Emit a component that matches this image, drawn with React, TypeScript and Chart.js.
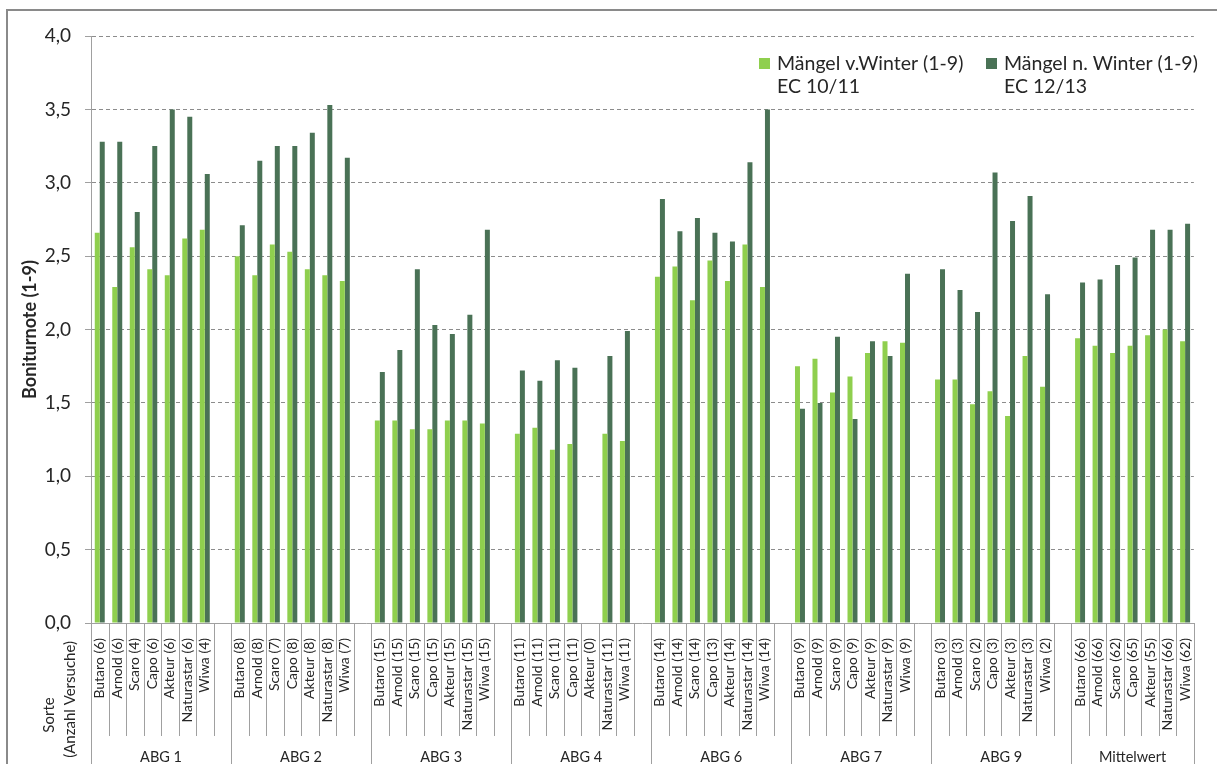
import React, { useEffect, useRef } from 'react';
import { Chart, registerables } from 'chart.js';

Chart.register(...registerables);

// ---------- data ----------
const cultivars = ['Butaro', 'Arnold', 'Scaro', 'Capo', 'Akteur', 'Naturastar', 'Wiwa'];
const groupNames = ['ABG 1', 'ABG 2', 'ABG 3', 'ABG 4', 'ABG 6', 'ABG 7', 'ABG 9', 'Mittelwert'];

// number of trials (Anzahl Versuche) per group and cultivar
const trialCounts = [
  [6, 6, 4, 6, 6, 6, 4],
  [8, 8, 7, 8, 8, 8, 7],
  [15, 15, 15, 15, 15, 15, 15],
  [11, 11, 11, 11, 0, 11, 11],
  [14, 14, 14, 13, 14, 14, 14],
  [9, 9, 9, 9, 9, 9, 9],
  [3, 3, 2, 3, 3, 3, 2],
  [66, 66, 62, 65, 55, 66, 62],
];

// Mängel v. Winter (1-9), EC 10/11
const vorWinter: (number | null)[][] = [
  [2.66, 2.29, 2.56, 2.41, 2.37, 2.62, 2.68],
  [2.5, 2.37, 2.58, 2.53, 2.41, 2.37, 2.33],
  [1.38, 1.38, 1.32, 1.32, 1.38, 1.38, 1.36],
  [1.29, 1.33, 1.18, 1.22, null, 1.29, 1.24],
  [2.36, 2.43, 2.2, 2.47, 2.33, 2.58, 2.29],
  [1.75, 1.8, 1.57, 1.68, 1.84, 1.92, 1.91],
  [1.66, 1.66, 1.49, 1.58, 1.41, 1.82, 1.61],
  [1.94, 1.89, 1.84, 1.89, 1.96, 2.0, 1.92],
];

// Mängel n. Winter (1-9), EC 12/13
const nachWinter: (number | null)[][] = [
  [3.28, 3.28, 2.8, 3.25, 3.5, 3.45, 3.06],
  [2.71, 3.15, 3.25, 3.25, 3.34, 3.53, 3.17],
  [1.71, 1.86, 2.41, 2.03, 1.97, 2.1, 2.68],
  [1.72, 1.65, 1.79, 1.74, null, 1.82, 1.99],
  [2.89, 2.67, 2.76, 2.66, 2.6, 3.14, 3.5],
  [1.46, 1.5, 1.95, 1.39, 1.92, 1.82, 2.38],
  [2.41, 2.27, 2.12, 3.07, 2.74, 2.91, 2.24],
  [2.32, 2.34, 2.44, 2.49, 2.68, 2.68, 2.72],
];

const seriesNames = [
  ['Mängel v.Winter (1-9)', 'EC 10/11'],
  ['Mängel n. Winter (1-9)', 'EC 12/13'],
];
const seriesColors = ['#8FCF4E', '#4A7256'];

const yTickLabels = ['0,0', '0,5', '1,0', '1,5', '2,0', '2,5', '3,0', '3,5', '4,0'];
const yTitle = 'Boniturnote (1-9)';
const xTitleLines = ['Sorte', '(Anzahl Versuche)'];

// ---------- build category table ----------
const labels: string[] = [];
const lightData: (number | null)[] = [];
const darkData: (number | null)[] = [];
const groupStarts: number[] = [];
groupNames.forEach((g, gi) => {
  groupStarts.push(labels.length);
  cultivars.forEach((c, ci) => {
    labels.push(`${c} (${trialCounts[gi][ci]})`);
    lightData.push(vorWinter[gi][ci]);
    darkData.push(nachWinter[gi][ci]);
  });
  if (gi < groupNames.length - 1) {
    labels.push('');
    lightData.push(null);
    darkData.push(null);
  }
});

const FONT = 'Lato';
const TEXT = '#262626';
const LINE = '#a0a0a0';

const framePlugin = {
  id: 'frame',
  beforeDraw(chart: any) {
    const { ctx } = chart;
    ctx.save();
    ctx.fillStyle = '#ffffff';
    ctx.fillRect(0, 0, chart.width, chart.height);
    ctx.strokeStyle = '#8a8a8a';
    ctx.lineWidth = 2;
    ctx.strokeRect(7, 10, chart.width + 20, chart.height + 20);
    ctx.restore();
  },
};

const groupAxisPlugin = {
  id: 'groupAxis',
  afterDraw(chart: any) {
    const { ctx, chartArea } = chart;
    const x = chart.scales.x;
    const n = chart.data.labels.length;
    const slot = x.getPixelForValue(1) - x.getPixelForValue(0);
    const axisY = chartArea.bottom;
    ctx.save();
    ctx.strokeStyle = LINE;
    ctx.lineWidth = 1;
    for (let k = 0; k <= n; k++) {
      const px = Math.round(x.getPixelForValue(k) - slot / 2) + 0.5;
      const isGroup = groupStarts.includes(k) || k === n;
      ctx.beginPath();
      ctx.moveTo(px, axisY);
      ctx.lineTo(px, isGroup ? chart.height : axisY + 113);
      ctx.stroke();
    }
    ctx.fillStyle = TEXT;
    ctx.font = `14.5px ${FONT}`;
    ctx.textAlign = 'center';
    ctx.textBaseline = 'middle';
    groupStarts.forEach((s, gi) => {
      const e = gi < groupStarts.length - 1 ? groupStarts[gi + 1] : n;
      const cx = (x.getPixelForValue(s) - slot / 2 + x.getPixelForValue(e - 1) + slot / 2) / 2;
      ctx.fillText(groupNames[gi], cx, 757);
    });
    // category axis title (rotated)
    ctx.font = `15px ${FONT}`;
    ctx.save();
    ctx.translate(49, 715);
    ctx.rotate(-Math.PI / 2);
    ctx.textAlign = 'center';
    ctx.fillText(xTitleLines[0], 0, 0);
    ctx.restore();
    ctx.save();
    ctx.translate(70, 641);
    ctx.rotate(-Math.PI / 2);
    ctx.textAlign = 'right';
    ctx.fillText(xTitleLines[1], 0, 0);
    ctx.restore();
    ctx.restore();
  },
};

const legendPlugin = {
  id: 'customLegend',
  afterDraw(chart: any) {
    const { ctx } = chart;
    const positions = [759, 986];
    ctx.save();
    ctx.font = `19.5px ${FONT}`;
    ctx.textBaseline = 'middle';
    ctx.textAlign = 'left';
    chart.data.datasets.forEach((ds: any, i: number) => {
      const bx = positions[i];
      ctx.fillStyle = ds.backgroundColor;
      ctx.fillRect(bx, 58, 11, 11);
      ctx.fillStyle = TEXT;
      const lines: string[] = ds.legendLines;
      lines.forEach((t, li) => ctx.fillText(t, bx + 18, 64 + li * 23));
    });
    ctx.restore();
  },
};

export default function App() {
  const ref = useRef<HTMLCanvasElement | null>(null);
  useEffect(() => {
    if (!ref.current) return;
    const chart = new Chart(ref.current, {
      type: 'bar',
      data: {
        labels,
        datasets: [
          {
            label: seriesNames[0].join(' '),
            legendLines: seriesNames[0],
            data: lightData,
            backgroundColor: seriesColors[0],
            borderWidth: 0,
            categoryPercentage: 0.57,
            barPercentage: 1,
          } as any,
          {
            label: seriesNames[1].join(' '),
            legendLines: seriesNames[1],
            data: darkData,
            backgroundColor: seriesColors[1],
            borderWidth: 0,
            categoryPercentage: 0.57,
            barPercentage: 1,
          } as any,
        ],
      },
      options: {
        responsive: false,
        animation: false,
        events: [],
        layout: { padding: { top: 36, right: 13, bottom: 0, left: 0 } },
        plugins: {
          legend: { display: false },
          tooltip: { enabled: false },
        },
        scales: {
          x: {
            offset: true,
            grid: { display: false, drawTicks: false },
            border: { display: true, color: LINE, width: 1 },
            ticks: {
              autoSkip: false,
              maxRotation: 90,
              minRotation: 90,
              padding: 15,
              color: TEXT,
              font: { family: FONT, size: 14 },
            },
            afterFit: (s: any) => {
              s.height = 141;
            },
          },
          y: {
            min: 0,
            max: 4,
            ticks: {
              stepSize: 0.5,
              padding: 14,
              color: TEXT,
              font: { family: FONT, size: 19 },
              callback: (_v: any, i: number) => yTickLabels[i],
            },
            grid: {
              color: (c: any) => (c.tick && c.tick.value === 0 ? 'rgba(0,0,0,0)' : '#8c8c8c'),
              tickColor: LINE,
              tickLength: 6,
            },
            border: { display: true, color: LINE, dash: [4, 3] },
            title: {
              display: true,
              text: yTitle,
              color: TEXT,
              font: { family: FONT, size: 18, weight: 'bold' },
              padding: { top: 19, bottom: 0 },
            },
            afterFit: (s: any) => {
              s.width = 91;
            },
          },
        },
      },
      plugins: [framePlugin, groupAxisPlugin, legendPlugin],
    });
    return () => chart.destroy();
  }, []);
  return (
    <div style={{ position: 'absolute', left: 0, top: 0, width: 1217, height: 764, overflow: 'hidden' }}>
      <canvas ref={ref} width={1217} height={764} style={{ display: 'block' }} />
    </div>
  );
}
